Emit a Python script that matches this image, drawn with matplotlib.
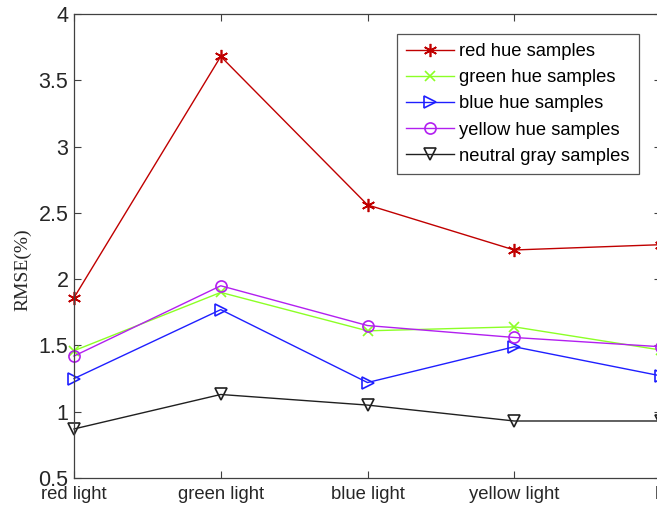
import matplotlib
matplotlib.use("Agg")
import matplotlib.pyplot as plt
from matplotlib.transforms import ScaledTranslation

categories = ["red light", "green light", "blue light", "yellow light", "l"]
red_hue = [1.86, 3.68, 2.56, 2.22, 2.26]
green_hue = [1.46, 1.90, 1.61, 1.64, 1.465]
blue_hue = [1.25, 1.77, 1.22, 1.49, 1.27]
yellow_hue = [1.42, 1.95, 1.65, 1.56, 1.49]
gray = [0.87, 1.13, 1.05, 0.93, 0.93]
yticks = [0.5, 1, 1.5, 2, 2.5, 3, 3.5, 4]
ytick_labels = ["0.5", "1", "1.5", "2", "2.5", "3", "3.5", "4"]

plt.rcParams['font.family'] = ['Liberation Sans', 'DejaVu Sans']

W, H = 657, 511
fig = plt.figure(figsize=(W / 100, H / 100), dpi=100)
left, right, bottom, top = 74, 661, 478, 14
ax = fig.add_axes([left / W, 1 - bottom / H, (right - left) / W, (bottom - top) / H])

x = list(range(1, len(categories) + 1))
series = [
    (red_hue, "red hue samples", "#C00000", (6, 2, 0), 9.5, "#C00000"),
    (green_hue, "green hue samples", "#8CFF26", "x", 7, "#8CFF26"),
    (blue_hue, "blue hue samples", "#1F1FFF", ">", 8, "none"),
    (yellow_hue, "yellow hue samples", "#B21FF0", "o", 8, "none"),
    (gray, "neutral gray samples", "#202020", "v", 8, "none"),
]
for vals, lab, col, mk, ms, fc in series:
    ax.plot(x, vals, color=col, lw=1.0, marker=mk, markersize=ms,
            markerfacecolor=fc, markeredgecolor=col, markeredgewidth=1.2,
            label=lab, clip_on=False)

ax.set_xlim(1, 5)
ax.set_ylim(0.5, 4)
ax.set_xticks(x)
ax.set_xticklabels(categories)
ax.set_yticks(yticks)
ax.set_yticklabels(ytick_labels)

axcol = "#404040"
for s in ax.spines.values():
    s.set_color(axcol)
    s.set_linewidth(0.9)
ax.tick_params(direction="in", top=True, right=True, length=5, width=0.8,
               color=axcol, labelcolor="#262626", labelsize=13.3)
ax.tick_params(axis="y", pad=4, labelsize=15.5)
ax.tick_params(axis="x", pad=6)

ax.set_ylabel("RMSE(%)", family=["Liberation Serif", "DejaVu Serif"],
              fontsize=14, color="#262626")
ax.yaxis.set_label_coords(-0.073, 0.448)

# last (cropped) label: left aligned so only its first glyph shows
lbl = ax.get_xticklabels()[-1]
lbl.set_horizontalalignment("left")
lbl.set_transform(lbl.get_transform() + ScaledTranslation(-6 / 100, 0, fig.dpi_scale_trans))

leg = ax.legend(loc="upper right", bbox_to_anchor=(639 / W, 1 - 34 / H),
                bbox_transform=fig.transFigure, borderaxespad=0,
                fontsize=13.2, handlelength=2.6, handletextpad=0.3,
                labelspacing=0.5, borderpad=0.5, fancybox=False,
                framealpha=1, edgecolor="#555555")
leg.get_frame().set_linewidth(0.9)

fig.savefig("out.png", dpi=100)
